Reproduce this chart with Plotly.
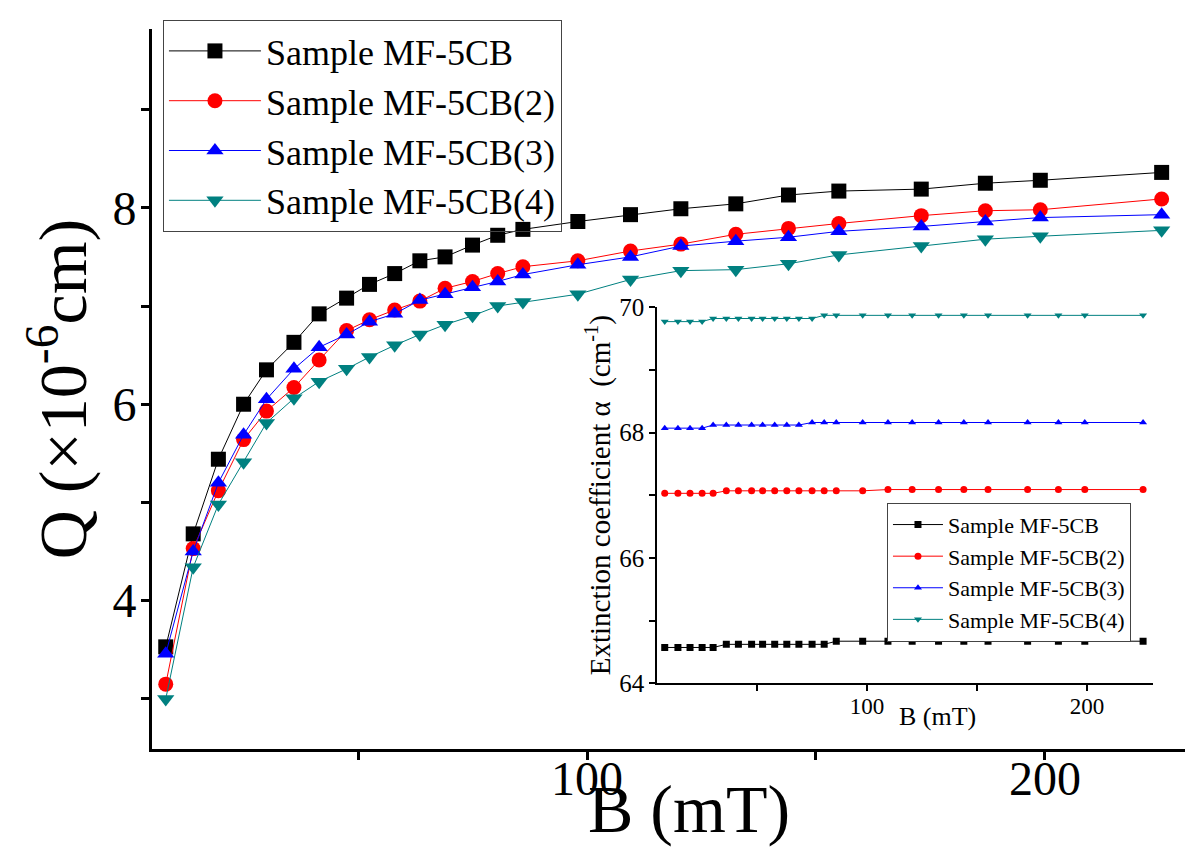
import plotly.graph_objects as go

# magnetic field B (mT), same points in main plot and inset
b_field = [8, 14, 19.5, 25, 30, 36, 41.5, 47.5, 52.5, 58, 63.5, 69, 75, 80.5, 86,
           98, 109.5, 120.5, 132.5, 144, 155, 173, 187, 199, 225.5]

# Q (x10^-6 cm), main plot
q_mf5cb = [3.53, 4.68, 5.44, 6.00, 6.35, 6.63, 6.92, 7.08, 7.22, 7.33, 7.46, 7.50, 7.62,
           7.72, 7.78, 7.86, 7.93, 7.99, 8.04, 8.13, 8.17, 8.19, 8.25, 8.28, 8.36]
q_mf5cb_2 = [3.15, 4.53, 5.12, 5.64, 5.93, 6.17, 6.45, 6.75, 6.86, 6.96, 7.05, 7.18, 7.25,
             7.33, 7.40, 7.46, 7.56, 7.63, 7.73, 7.79, 7.84, 7.92, 7.97, 7.98, 8.09]
q_mf5cb_3 = [3.46, 4.50, 5.20, 5.69, 6.05, 6.36, 6.58, 6.71, 6.84, 6.92, 7.06, 7.12, 7.19,
             7.25, 7.32, 7.42, 7.50, 7.61, 7.66, 7.70, 7.76, 7.81, 7.86, 7.90, 7.93]
q_mf5cb_4 = [3.00, 4.34, 4.98, 5.41, 5.81, 6.06, 6.23, 6.36, 6.48, 6.60, 6.71, 6.81, 6.90,
             7.00, 7.04, 7.12, 7.27, 7.36, 7.37, 7.43, 7.52, 7.61, 7.68, 7.71, 7.77]

# extinction coefficient alpha (cm^-1), inset
a_mf5cb = [64.57, 64.57, 64.57, 64.57, 64.57, 64.62, 64.62, 64.62, 64.62, 64.62, 64.62,
           64.62, 64.62, 64.62, 64.67, 64.67, 64.67, 64.67, 64.67, 64.67, 64.67, 64.67,
           64.67, 64.67, 64.67]
a_mf5cb_2 = [67.03, 67.03, 67.03, 67.03, 67.03, 67.07, 67.07, 67.07, 67.07, 67.07, 67.07,
             67.07, 67.07, 67.07, 67.07, 67.07, 67.09, 67.09, 67.09, 67.09, 67.09, 67.09,
             67.09, 67.09, 67.09]
a_mf5cb_3 = [68.07, 68.07, 68.07, 68.07, 68.12, 68.12, 68.12, 68.12, 68.12, 68.12, 68.12,
             68.12, 68.16, 68.16, 68.16, 68.16, 68.16, 68.16, 68.16, 68.16, 68.16, 68.16,
             68.16, 68.16, 68.16]
a_mf5cb_4 = [69.77, 69.77, 69.77, 69.77, 69.82, 69.82, 69.82, 69.82, 69.82, 69.82, 69.82,
             69.82, 69.82, 69.87, 69.87, 69.87, 69.87, 69.87, 69.87, 69.87, 69.87, 69.87,
             69.87, 69.87, 69.87]

names = ['Sample MF-5CB', 'Sample MF-5CB(2)', 'Sample MF-5CB(3)', 'Sample MF-5CB(4)']
colors = ['#000000', '#FF0000', '#0000FF', '#008080']
symbols = ['square', 'circle', 'triangle-up', 'triangle-down']

FONT = 'Liberation Serif'


def serif(size):
    return dict(family=FONT, size=size, color='black')


fig = go.Figure()

# main plot
for name, q, color, symbol in zip(names, [q_mf5cb, q_mf5cb_2, q_mf5cb_3, q_mf5cb_4], colors, symbols):
    fig.add_trace(go.Scatter(
        x=b_field, y=q, mode='lines+markers', name=name,
        line=dict(color=color, width=1),
        marker=dict(symbol=symbol, color=color, size=15),
        xaxis='x', yaxis='y', legend='legend'
    ))

# inset
for name, a, color, symbol in zip(names, [a_mf5cb, a_mf5cb_2, a_mf5cb_3, a_mf5cb_4], colors, symbols):
    fig.add_trace(go.Scatter(
        x=b_field, y=a, mode='lines+markers', name=name,
        line=dict(color=color, width=1),
        marker=dict(symbol=symbol, color=color, size=7),
        xaxis='x2', yaxis='y2', legend='legend2'
    ))

main_ticks = dict(ticks='outside', ticklen=8, tickwidth=2.5, tickcolor='black')
inset_ticks = dict(ticks='outside', ticklen=6, tickwidth=1.5, tickcolor='black')

# the page body adds an 8px offset, so margins are set 8px smaller on top/left
fig.update_layout(
    width=1200, height=848,
    margin=dict(l=144, r=23, t=19, b=107),
    paper_bgcolor='white', plot_bgcolor='white',
    font=serif(20),
    xaxis=dict(
        domain=[0, 1], anchor='y', range=[5, 230.6], automargin=False,
        showline=True, linewidth=3, linecolor='black', mirror=False,
        tickmode='linear', tick0=0, dtick=100, minor=dict(dtick=50, **main_ticks),
        tickfont=serif(48), ticklabelstandoff=-23,
        showgrid=False, zeroline=False, **main_ticks,
    ),
    yaxis=dict(
        domain=[0, 1], anchor='x', range=[2.49, 9.82], automargin=False,
        showline=True, linewidth=3, linecolor='black', mirror=False,
        tickmode='linear', tick0=0, dtick=2, minor=dict(dtick=1, **main_ticks),
        tickfont=serif(48), ticklabelstandoff=-5,
        showgrid=False, zeroline=False, **main_ticks,
        title=dict(text='Q (\u00d710<sup>-6</sup>cm)', font=serif(68), standoff=4),
    ),
    xaxis2=dict(
        domain=[0.4889, 0.969], anchor='y2', range=[4.5, 230], automargin=False,
        showline=True, linewidth=1.5, linecolor='black', mirror=False,
        tickmode='linear', tick0=0, dtick=100, minor=dict(dtick=50, **inset_ticks),
        tickfont=serif(23), ticklabelstandoff=-5,
        showgrid=False, zeroline=False, **inset_ticks,
    ),
    yaxis2=dict(
        domain=[0.0914, 0.6136], anchor='x2', range=[64, 70], automargin=False,
        showline=True, linewidth=1.5, linecolor='black', mirror=False,
        tickmode='linear', tick0=64, dtick=2, minor=dict(dtick=1, **inset_ticks),
        tickfont=serif(25), ticklabelstandoff=0,
        showgrid=False, zeroline=False, **inset_ticks,
        title=dict(text='Extinction coefficient \u03b1\u00a0\u00a0(cm<sup>-1</sup>)',
                   font=serif(29), standoff=0),
    ),
    legend=dict(
        x=0.0106, y=1.0125, xanchor='left', yanchor='top',
        font=serif(36), bgcolor='rgba(0,0,0,0)',
        bordercolor='#444444', borderwidth=1, itemwidth=92,
    ),
    legend2=dict(
        x=0.7115, y=0.342, xanchor='left', yanchor='top',
        font=serif(22), bgcolor='white',
        bordercolor='#444444', borderwidth=1, itemwidth=50,
    ),
    showlegend=True,
)

# x-axis titles sit closer to the tick labels than a plotly axis title allows
fig.add_annotation(text='B (mT)', xref='paper', yref='paper', x=0.52, y=-0.083,
                   xanchor='center', yanchor='middle', showarrow=False, font=serif(68))
fig.add_annotation(text='B (mT)', xref='paper', yref='paper', x=0.760, y=0.0455,
                   xanchor='center', yanchor='middle', showarrow=False, font=serif(26))

fig.write_html('out.html')
